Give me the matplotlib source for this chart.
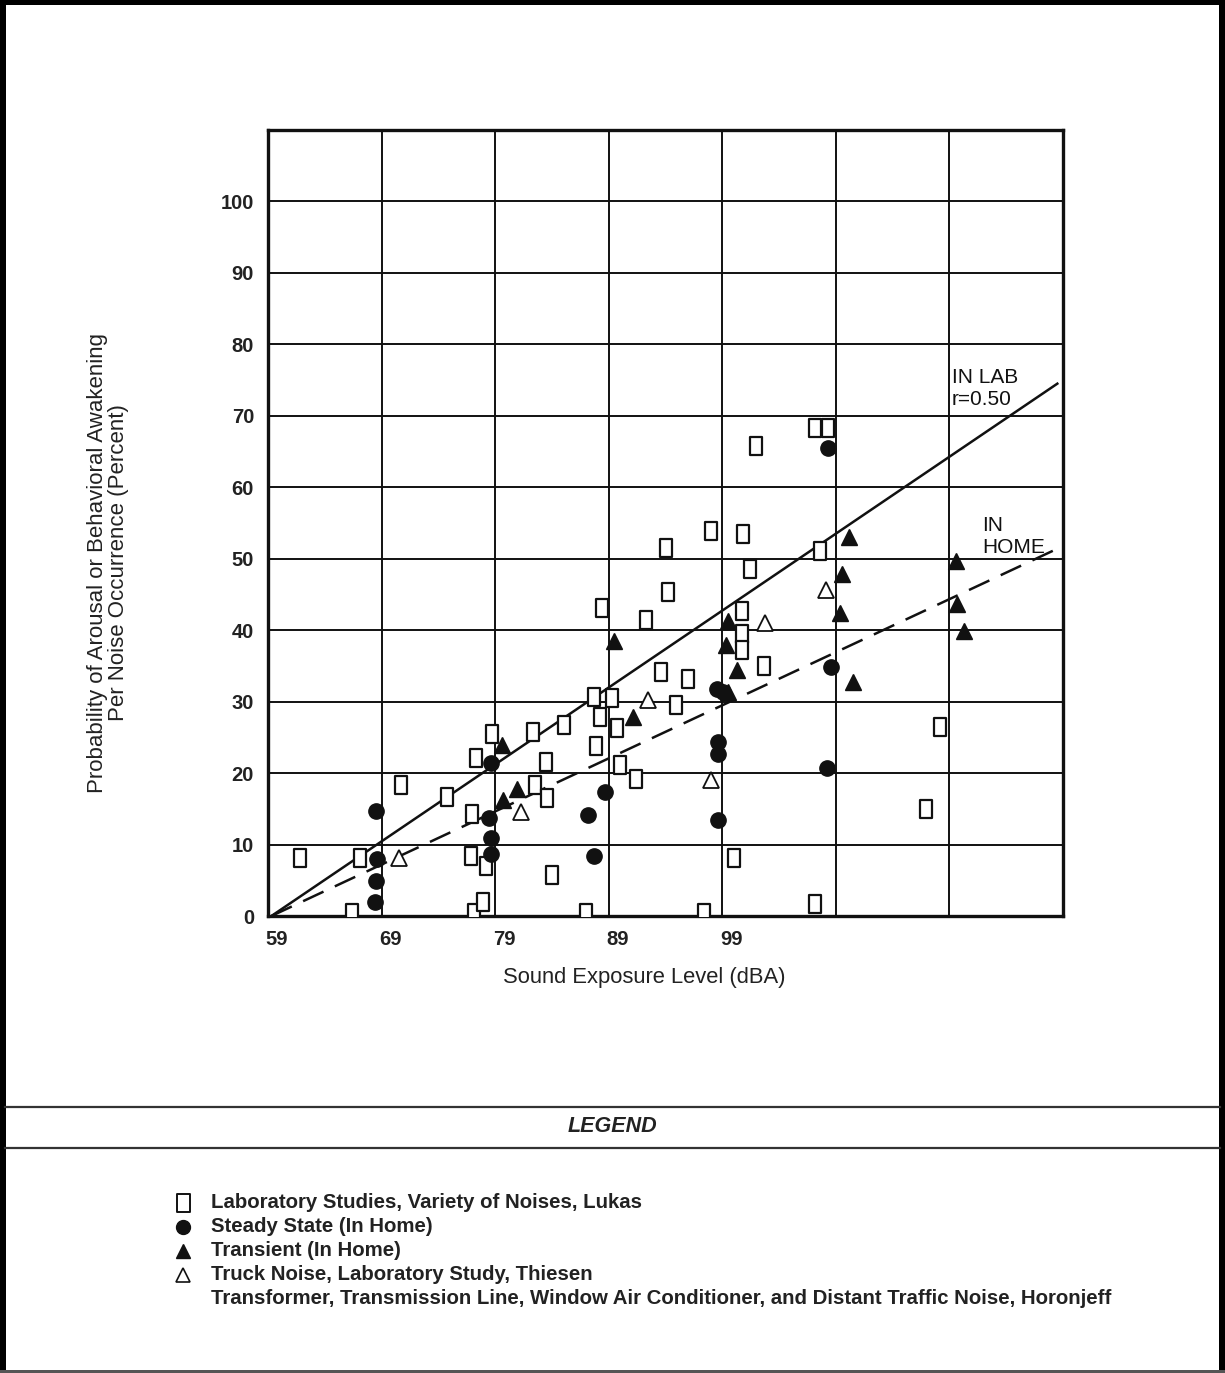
import matplotlib
matplotlib.use("Agg")
import matplotlib.pyplot as plt
from matplotlib.path import Path
from matplotlib.lines import Line2D
from matplotlib.patches import Rectangle
from matplotlib.transforms import ScaledTranslation

plt.rcParams['font.family'] = ['Liberation Sans', 'DejaVu Sans']

# Laboratory studies, variety of noises (Lukas)
lab_x = [61.8, 66.4, 67.1, 70.7, 74.8, 76.9, 77.0, 77.3, 77.1, 77.9, 78.2, 78.7,
         82.3, 82.5, 83.5, 83.6, 84.0, 85.1, 87.0, 87.9, 87.7, 88.2, 88.4, 89.3,
         89.7, 90.0, 91.4, 92.3, 93.6, 94.0, 94.2, 94.9, 96.0, 97.4, 98.0, 100.0,
         100.8, 101.4, 100.7, 100.7, 100.7, 102.0, 102.7, 107.2, 108.3, 107.6,
         107.2, 116.9, 118.2]
lab_y = [8.1, 0.4, 8.1, 18.3, 16.7, 8.4, 14.3, 22.1, 0.4, 2.0, 7.0, 25.5,
         25.8, 18.3, 21.6, 16.5, 5.7, 26.7, 0.4, 23.8, 30.7, 27.9, 43.1, 30.5,
         26.3, 21.1, 19.2, 41.4, 34.2, 51.5, 45.3, 29.5, 33.2, 0.4, 53.9, 8.1,
         53.5, 48.6, 42.7, 39.5, 37.2, 65.8, 35.0, 68.3, 68.3, 51.1,
         1.7, 15.0, 26.5]

# Steady state noise, in home
steady_x = [68.5, 68.6, 68.5, 68.4, 78.6, 78.5, 78.6, 78.6, 87.2, 87.7, 88.7,
            98.5, 99.1, 98.6, 98.6, 98.6, 108.3, 108.6, 108.2]
steady_y = [14.7, 8.0, 4.9, 2.0, 21.4, 13.7, 10.9, 8.7, 14.1, 8.4, 17.4,
            31.8, 31.4, 24.4, 22.7, 13.4, 65.5, 34.8, 20.7]

# Transient noise, in home
transient_x = [79.6, 79.7, 80.9, 89.5, 91.1, 99.5, 99.3, 100.3, 99.5, 110.2,
               109.5, 109.4, 110.5, 119.6, 119.7, 120.3]
transient_y = [23.9, 16.2, 17.8, 38.5, 27.9, 41.3, 37.9, 34.4, 31.4, 53.0,
               47.9, 42.4, 32.8, 49.7, 43.7, 39.9]

# Truck noise, laboratory study (Thiesen)
truck_x = [70.5, 81.3, 92.5, 98.0, 102.8, 108.1]
truck_y = [8.1, 14.6, 30.2, 19.0, 41.0, 45.6]

# Regression lines
fit_x = [59.3, 128.5]
lab_fit_y = [0.0, 74.5]
home_fit_y = [0.0, 51.4]

x_grid = [59, 69, 79, 89, 99, 109, 119, 129]
x_labels = ['59', '69', '79', '89', '99', '', '', '']
y_grid = [0, 10, 20, 30, 40, 50, 60, 70, 80, 90, 100, 110]
y_labels = ['0', '10', '20', '30', '40', '50', '60', '70', '80', '90', '100', '']

legend_labels = [
    "Laboratory Studies, Variety of Noises, Lukas",
    "Steady State (In Home)",
    "Transient (In Home)",
    "Truck Noise, Laboratory Study, Thiesen",
    "Transformer, Transmission Line, Window Air Conditioner, and Distant Traffic Noise, Horonjeff",
]

W, H = 1225, 1373
fig = plt.figure(figsize=(W / 100, H / 100), dpi=100)
fig.patch.set_facecolor('white')

ax = fig.add_axes([268 / W, 1 - 916 / H, (1063 - 268) / W, (916 - 130) / H])
ax.set_xlim(59, 129)
ax.set_ylim(0, 110)

ax.set_xticks(x_grid)
ax.set_xticklabels(x_labels)
ax.set_yticks(y_grid)
ax.set_yticklabels(y_labels)
ax.tick_params(length=0, labelsize=14.5, pad=10)
for lbl in ax.get_xticklabels():
    lbl.set_fontweight('bold')
    lbl.set_color('#222222')
    lbl.set_transform(lbl.get_transform() + ScaledTranslation(0.09, 0, fig.dpi_scale_trans))
for lbl in ax.get_yticklabels():
    lbl.set_fontweight('bold')
    lbl.set_color('#222222')

ax.grid(True, color='#111111', linewidth=1.4)
ax.set_axisbelow(True)
for sp in ax.spines.values():
    sp.set_linewidth(2.4)
    sp.set_color('#111111')

fig.text(644 / W, 1 - 977 / H, "Sound Exposure Level (dBA)", fontsize=15.8,
         color='#222222', ha='center', va='center')
fig.text(108 / W, 1 - 563 / H,
         "Probability of Arousal or Behavioral Awakening\nPer Noise Occurrence (Percent)",
         fontsize=16, color='#222222', ha='center', va='center', rotation=90,
         linespacing=1.05, multialignment='center')

# regression lines
ax.plot(fit_x, lab_fit_y, color='#111111', lw=1.8, zorder=2)
ax.plot(fit_x, home_fit_y, color='#111111', lw=1.8, dashes=(9, 5), zorder=2)

ax.text(119.2, 73.8, "IN LAB\nr=0.50", fontsize=15, ha='left', va='center',
        linespacing=1.2, color='#111111', zorder=3)
ax.text(121.9, 53.1, "IN\nHOME", fontsize=15, ha='left', va='center',
        linespacing=1.2, color='#111111', zorder=3)

# tall open rectangle marker
tall_box = Path([(-0.36, -0.5), (0.36, -0.5), (0.36, 0.5), (-0.36, 0.5), (-0.36, -0.5)],
                closed=True)

ax.plot(lab_x, lab_y, ls='none', marker=tall_box, ms=12.5, mfc='white',
        mec='#111111', mew=1.6, zorder=4)
ax.plot(steady_x, steady_y, ls='none', marker='o', ms=11, mfc='#111111',
        mec='#111111', zorder=5)
ax.plot(transient_x, transient_y, ls='none', marker='^', ms=11, mfc='#111111',
        mec='#111111', zorder=5)
ax.plot(truck_x, truck_y, ls='none', marker='^', ms=11, mfc='white',
        mec='#111111', mew=1.3, zorder=4)

# outer frame of the page
fig.add_artist(Rectangle((0, 1 - 5 / H), 1, 5 / H, transform=fig.transFigure,
                         color='black', lw=0))
fig.add_artist(Rectangle((0, 0), 6 / W, 1, transform=fig.transFigure,
                         color='black', lw=0))
fig.add_artist(Rectangle((1 - 6 / W, 0), 6 / W, 1, transform=fig.transFigure,
                         color='black', lw=0))
fig.add_artist(Rectangle((0, 0), 1, 3 / H, transform=fig.transFigure,
                         color='#555555', lw=0))

# legend block
for yy in (1107, 1148):
    fig.add_artist(Line2D([5 / W, 1220 / W], [1 - yy / H, 1 - yy / H],
                          transform=fig.transFigure, color='#333333', lw=1.6))
fig.text(612 / W, 1 - 1127 / H, "LEGEND", fontsize=15.5, fontweight='bold',
         fontstyle='italic', ha='center', va='center', color='#222222')

legend_markers = [
    dict(marker=tall_box, ms=13, mfc='white', mec='#111111', mew=1.4),
    dict(marker='o', ms=10, mfc='#111111', mec='#111111'),
    dict(marker='^', ms=10, mfc='#111111', mec='#111111'),
    dict(marker='^', ms=10, mfc='white', mec='#111111', mew=1.2),
    None,
]
row_y = [1203, 1227, 1251, 1275, 1299]
for lab, mk, yy in zip(legend_labels, legend_markers, row_y):
    yf = 1 - yy / H
    if mk is not None:
        fig.add_artist(Line2D([183 / W], [yf], transform=fig.transFigure, ls='none', **mk))
    fig.text(211 / W, yf, lab, fontsize=14.7, fontweight='bold', ha='left',
             va='center', color='#222222')

fig.savefig("out.png", dpi=100)
